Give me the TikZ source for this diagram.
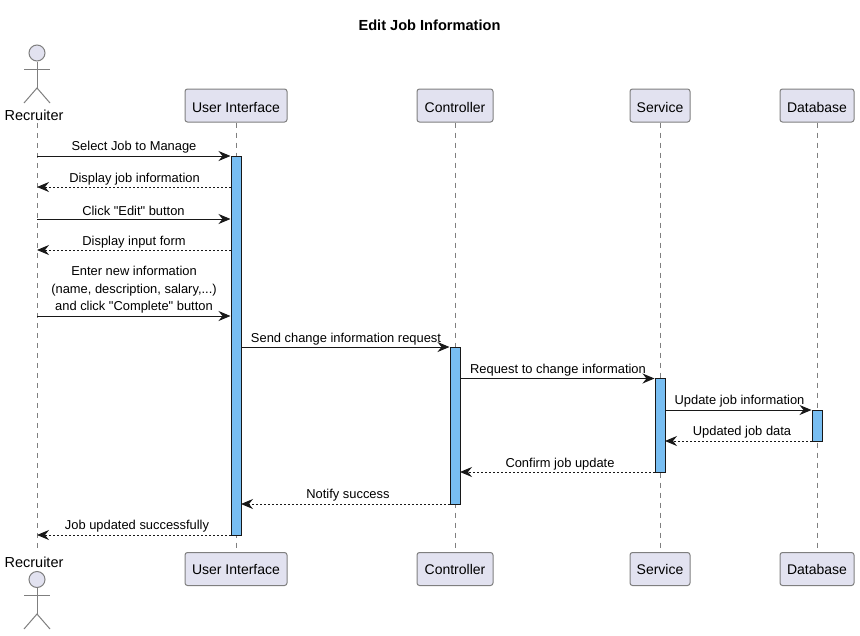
\documentclass[tikz,border=0pt]{standalone}
\usepackage{fontspec}
\setmainfont{Liberation Sans}[Ligatures=TeXOff]
\usetikzlibrary{arrows.meta}
\definecolor{partfill}{HTML}{E2E2F0}
\definecolor{barfill}{HTML}{78BEF2}
\definecolor{ink}{HTML}{181818}
\definecolor{rim}{HTML}{7F7F7F}
\tikzset{
	part/.style={draw=rim, fill=partfill, rounded corners=2.5pt, line width=1pt, minimum height=33pt, inner sep=0pt, font=\fontsize{14}{17}\selectfont, text=black, text depth=0pt},
	parttop/.style={part, text height=13.5pt},
	partbot/.style={part, text height=11.5pt},
	actorhead/.style={circle, draw=rim, fill=partfill, line width=1pt, minimum size=16pt, inner sep=0pt},
	actorline/.style={draw=rim, line width=1pt},
	actorname/.style={font=\fontsize{14.5}{17}\selectfont, inner sep=0pt},
	life/.style={draw=rim, line width=1pt, dash pattern=on 5pt off 5pt},
	bar/.style={draw=ink, fill=barfill, line width=1pt, minimum width=10pt, inner sep=0pt},
	call/.style={draw=ink, line width=1pt, -{Stealth[length=12pt,width=10pt,inset=4pt]}},
	back/.style={call, dash pattern=on 2pt off 2pt},
	msg/.style={font=\fontsize{12.9}{17.5}\selectfont, inner sep=0pt, align=center, text=black},
}
\begin{document}
\begin{tikzpicture}[x=1pt, y=-1pt]
			%%%%% START %%%%%
			\useasboundingbox (0, 0) rectangle (860, 635);
			
			\node[font=\fontsize{14.6}{17}\bfseries, inner sep=0pt] (title) at (429.5, 25) {Edit Job Information};
			
			% top row
			\node[actorname] (rectop) at (34, 115) {Recruiter};
			\node[parttop, minimum width=102pt] (uitop) at (236, 105.5) {User Interface};
			\node[parttop, minimum width=76pt] (ctrltop) at (455, 105.5) {Controller};
			\node[parttop, minimum width=60pt] (srvtop) at (660, 105.5) {Service};
			\node[parttop, minimum width=74pt] (dbtop) at (817, 105.5) {Database};
			
			% bottom row
			\node[actorname] (recbot) at (34, 562) {Recruiter};
			\node[partbot, minimum width=102pt] (uibot) at (236, 569) {User Interface};
			\node[partbot, minimum width=76pt] (ctrlbot) at (455, 569) {Controller};
			\node[partbot, minimum width=60pt] (srvbot) at (660, 569) {Service};
			\node[partbot, minimum width=74pt] (dbbot) at (817, 569) {Database};
			
			% lifelines
			\coordinate (rec1) at (37, 123);
			\coordinate (rec2) at (37, 549);
			\draw[life] (rec1) -- (rec2);
			\draw[life] (uitop.south) -- (uibot.north);
			\draw[life] (ctrltop.south) -- (ctrlbot.north);
			\draw[life] (srvtop.south) -- (srvbot.north);
			\draw[life] (dbtop.south) -- (dbbot.north);
			
			% actor top
			\node[actorhead] (headtop) at (37, 53) {};
			\coordinate (hiptop) at (37, 88);
			\draw[actorline] (headtop.south) -- (hiptop);
			\draw[actorline] (24, 69) -- (50, 69);
			\draw[actorline] (24, 103) -- (hiptop) -- (50, 103);
			
			% actor bottom
			\node[actorhead] (headbot) at (37, 579.5) {};
			\coordinate (hipbot) at (37, 614);
			\draw[actorline] (headbot.south) -- (hipbot);
			\draw[actorline] (24, 595) -- (50, 595);
			\draw[actorline] (24, 629) -- (hipbot) -- (50, 629);
			
			% activation bars
			\node[bar, minimum height=379pt] (uibar) at (236, 345.5) {};
			\node[bar, minimum height=157pt] (ctrlbar) at (455, 425.5) {};
			\node[bar, minimum height=94pt] (srvbar) at (660, 425) {};
			\node[bar, minimum height=31pt] (dbbar) at (817, 425.5) {};
			
			% message heights
			\coordinate (m1) at (37, 156);
			\coordinate (m2) at (37, 187);
			\coordinate (m3) at (37, 219);
			\coordinate (m4) at (37, 250);
			\coordinate (m5) at (37, 316);
			\coordinate (m6) at (241, 347);
			\coordinate (m7) at (460, 378.5);
			\coordinate (m8) at (665, 410);
			\coordinate (m9) at (665, 441);
			\coordinate (m10) at (460, 472);
			\coordinate (m11) at (241, 504);
			\coordinate (m12) at (37, 535);
			
			\draw[call] (m1) -- (m1 -| uibar.west);
			\draw[back] (m2 -| uibar.west) -- (m2);
			\draw[call] (m3) -- (m3 -| uibar.west);
			\draw[back] (m4 -| uibar.west) -- (m4);
			\draw[call] (m5) -- (m5 -| uibar.west);
			\draw[call] (m6) -- (m6 -| ctrlbar.west);
			\draw[call] (m7) -- (m7 -| srvbar.west);
			\draw[call] (m8) -- (m8 -| dbbar.west);
			\draw[back] (m9 -| dbbar.west) -- (m9);
			\draw[back] (m10 -| srvbar.west) -- (m10);
			\draw[back] (m11 -| ctrlbar.west) -- (m11);
			\draw[back] (m12 -| uibar.west) -- (m12);
			
			% message texts
			\node[msg] (t1) at (134, 147) {Select Job to Manage};
			\node[msg] (t2) at (134.5, 179) {Display job information};
			\node[msg] (t3) at (133.5, 210.5) {Click "Edit" button};
			\node[msg] (t4) at (134, 242) {Display input form};
			\node[msg] (t5) at (134, 290) {Enter new information\\(name, description, salary,...)\\and click "Complete" button};
			\node[msg] (t6) at (346, 339) {Send change information request};
			\node[msg] (t7) at (558, 370) {Request to change information};
			\node[msg] (t8) at (739.5, 401.5) {Update job information};
			\node[msg] (t9) at (742, 432.5) {Updated job data};
			\node[msg] (t10) at (560, 464) {Confirm job update};
			\node[msg] (t11) at (348, 495.5) {Notify success};
			\node[msg] (t12) at (137, 526.5) {Job updated successfully};
			
			%%%%% END %%%%%
\end{tikzpicture}
\end{document}
